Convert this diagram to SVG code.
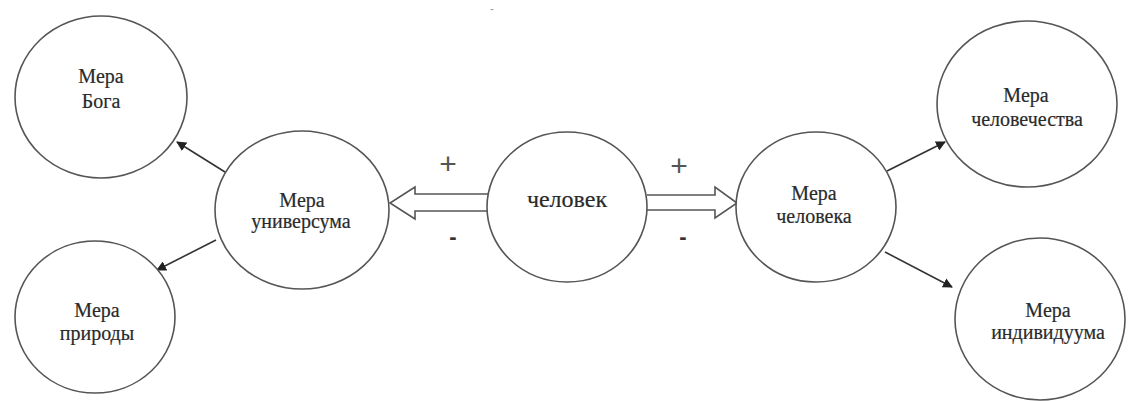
<svg xmlns="http://www.w3.org/2000/svg" width="1128" height="401" viewBox="0 0 1128 401">
<style>
.node{fill:#fff;stroke:#555;stroke-width:1.6}
.t{font-family:"Liberation Serif","Times New Roman",serif;font-size:20px;fill:#2a2a2a;text-anchor:middle;stroke:#2a2a2a;stroke-width:0.2}
.big{font-size:24px}
.sign{font-family:"Liberation Sans",Arial,sans-serif;font-size:22px;fill:#444;text-anchor:middle}
.plus{font-size:30px;fill:#555}
.minus{font-weight:bold;fill:#333}
.conn{stroke:#333;stroke-width:1.6;fill:none}
.block{fill:#fff;stroke:#555;stroke-width:1.6}
</style>
<defs>
<marker id="ah" viewBox="0 0 10 10" refX="9" refY="5" markerWidth="10" markerHeight="10" markerUnits="userSpaceOnUse" orient="auto">
<path d="M0,0 L10,5 L0,10 z" fill="#222"/>
</marker>
</defs>
<rect width="1128" height="401" fill="#fff"/>
<g id="connectors">
<line class="conn" x1="225" y1="172" x2="177" y2="142" marker-end="url(#ah)"/>
<line class="conn" x1="216" y1="240" x2="157" y2="270" marker-end="url(#ah)"/>
<line class="conn" x1="887" y1="171" x2="945" y2="142" marker-end="url(#ah)"/>
<line class="conn" x1="885" y1="252" x2="952" y2="287" marker-end="url(#ah)"/>
<path class="block" d="M489,194 L415,194 L415,187 L390,203 L415,219 L415,211 L489,211"/>
<path class="block" d="M647,195 L715,195 L715,187 L737,203 L715,218 L715,210 L647,210"/>
<text class="sign plus" x="448" y="174">+</text>
<text class="sign minus" x="453" y="244">-</text>
<text class="sign plus" x="679" y="176">+</text>
<text class="sign minus" x="683" y="244">-</text>
</g>
<g id="n-boga">
<ellipse class="node" cx="101" cy="97" rx="86" ry="81"/>
<text class="t" x="101" y="83">Мера</text>
<text class="t" x="101" y="108">Бога</text>
</g>
<g id="n-prirody">
<ellipse class="node" cx="95" cy="317" rx="80" ry="76"/>
<text class="t" x="97" y="317">Мера</text>
<text class="t" x="97" y="340">природы</text>
</g>
<g id="n-universuma">
<ellipse class="node" cx="302" cy="210" rx="87" ry="79"/>
<text class="t" x="302" y="207">Мера</text>
<text class="t" x="301" y="228">универсума</text>
</g>
<g id="n-chelovek">
<ellipse class="node" cx="567" cy="207" rx="80" ry="75"/>
<text class="t big" x="567" y="207">человек</text>
</g>
<g id="n-cheloveka">
<ellipse class="node" cx="816" cy="207" rx="80" ry="75"/>
<text class="t" x="814" y="200">Мера</text>
<text class="t" x="814" y="223">человека</text>
</g>
<g id="n-chelovechestva">
<ellipse class="node" cx="1027" cy="104" rx="90" ry="83"/>
<text class="t" x="1026" y="102">Мера</text>
<text class="t" x="1027" y="126">человечества</text>
</g>
<g id="n-individuuma">
<ellipse class="node" cx="1040" cy="319" rx="85" ry="81"/>
<text class="t" x="1048" y="317">Мера</text>
<text class="t" x="1048" y="339">индивидуума</text>
</g>
<text x="492" y="13" font-family="Liberation Sans,Arial,sans-serif" font-size="12" fill="#999" text-anchor="middle">-</text>
</svg>
